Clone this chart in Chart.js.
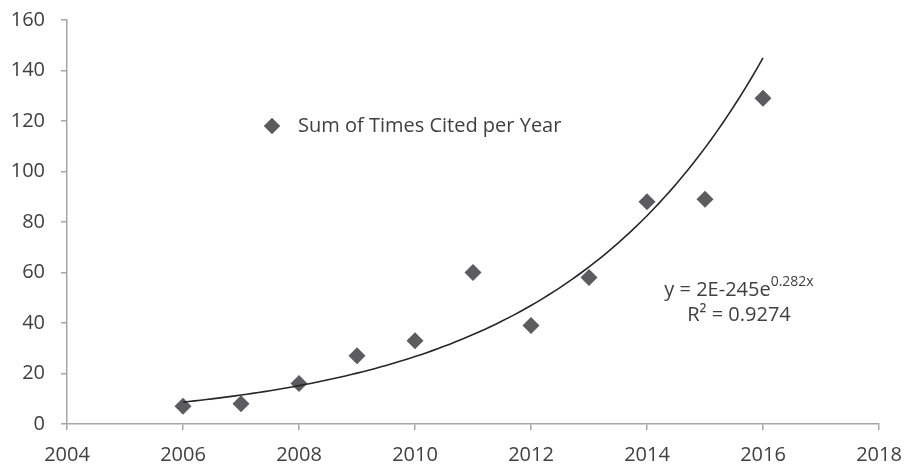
<!DOCTYPE html>
<html>
<head>
<meta charset="utf-8">
<script src="https://cdn.jsdelivr.net/npm/chart.js@4/dist/chart.umd.min.js"></script>
<style>
  html, body { margin: 0; padding: 0; background: #ffffff; }
  #wrap { width: 906px; height: 468px; }
</style>
</head>
<body>
<div id="wrap"><canvas id="c" width="906" height="468"></canvas></div>
<script>
// Citations per publication year
const years = [2006, 2007, 2008, 2009, 2010, 2011, 2012, 2013, 2014, 2015, 2016];
const timesCited = [7, 8, 16, 27, 33, 60, 39, 58, 88, 89, 129];
const seriesName = 'Sum of Times Cited per Year';
const equationMain = 'y = 2E-245e';
const equationExp = '0.282x';
const rSquaredText = 'R\u00B2 = 0.9274';

const FONT = '"Open Sans", "DejaVu Sans", sans-serif';
const TEXT = '#404040';
const AXIS = '#a6a6a6';
const MARK = '#5c5c60';

// Exponential trendline: least squares fit of ln(y) against x
function expFit(xs, ys) {
  const n = xs.length;
  const ly = ys.map(v => Math.log(v));
  const mx = xs.reduce((a, b) => a + b, 0) / n;
  const my = ly.reduce((a, b) => a + b, 0) / n;
  let sxy = 0, sxx = 0;
  for (let i = 0; i < n; i++) {
    sxy += (xs[i] - mx) * (ly[i] - my);
    sxx += (xs[i] - mx) * (xs[i] - mx);
  }
  return { b: sxy / sxx, lnA0: my, x0: mx };
}
const fit = expFit(years, timesCited);
const trendPts = [];
const x1 = years[0], x2 = years[years.length - 1];
for (let i = 0; i <= 100; i++) {
  const x = x1 + (x2 - x1) * i / 100;
  trendPts.push({ x, y: Math.exp(fit.lnA0 + fit.b * (x - fit.x0)) });
}

const points = years.map((yr, i) => ({ x: yr, y: timesCited[i] }));

// Legend entry and trendline equation drawn on the chart area
const annotations = {
  id: 'annotations',
  afterDatasetsDraw(chart) {
    const ctx = chart.ctx;
    ctx.save();
    // legend
    ctx.fillStyle = MARK;
    Chart.helpers.drawPoint(ctx, { pointStyle: 'rectRot', radius: 8, rotation: 0, borderWidth: 0 }, 272, 126);
    ctx.fill();
    ctx.fillStyle = TEXT;
    ctx.font = '20px ' + FONT;
    ctx.textBaseline = 'middle';
    ctx.textAlign = 'left';
    ctx.fillText(seriesName, 298, 126);

    // equation
    const cx = 739;
    ctx.font = '20px ' + FONT;
    const wMain = ctx.measureText(equationMain).width;
    ctx.font = '14px ' + FONT;
    const wExp = ctx.measureText(equationExp).width;
    const left = cx - (wMain + wExp) / 2;
    ctx.font = '20px ' + FONT;
    ctx.fillText(equationMain, left, 290);
    ctx.font = '14px ' + FONT;
    ctx.fillText(equationExp, left + wMain, 282);
    ctx.font = '20px ' + FONT;
    ctx.textAlign = 'center';
    ctx.fillText(rSquaredText, cx, 315);
    ctx.restore();
  }
};

new Chart(document.getElementById('c'), {
  type: 'scatter',
  data: {
    datasets: [
      {
        label: 'Trend',
        data: trendPts,
        showLine: true,
        borderColor: '#262626',
        borderWidth: 1.6,
        pointRadius: 0,
        fill: false,
        tension: 0
      },
      {
        label: seriesName,
        data: points,
        pointStyle: 'rectRot',
        pointRadius: 8.5,
        pointBackgroundColor: MARK,
        pointBorderWidth: 0,
        showLine: false
      }
    ]
  },
  plugins: [annotations],
  options: {
    responsive: false,
    animation: false,
    layout: { padding: { top: 20, right: 27, left: 0, bottom: 0 } },
    plugins: { legend: { display: false }, tooltip: { enabled: false } },
    scales: {
      x: {
        type: 'linear',
        min: 2004, max: 2018,
        afterFit(s) { s.height = 44; s.paddingLeft = 0; s.paddingRight = 0; },
        border: { color: AXIS, width: 1.5 },
        grid: { drawOnChartArea: false, drawTicks: true, tickLength: 6, color: AXIS, lineWidth: 1.5 },
        ticks: {
          stepSize: 2,
          padding: 13,
          color: TEXT,
          font: { family: FONT, size: 20 },
          callback: v => String(v),
          maxRotation: 0
        }
      },
      y: {
        min: 0, max: 160,
        afterFit(s) { s.width = 67; s.paddingTop = 0; s.paddingBottom = 0; },
        border: { color: AXIS, width: 1.5 },
        grid: { drawOnChartArea: false, drawTicks: true, tickLength: 6, color: AXIS, lineWidth: 1.5 },
        ticks: {
          stepSize: 20,
          padding: 16,
          color: TEXT,
          font: { family: FONT, size: 20 }
        }
      }
    }
  }
});
</script>
</body>
</html>
